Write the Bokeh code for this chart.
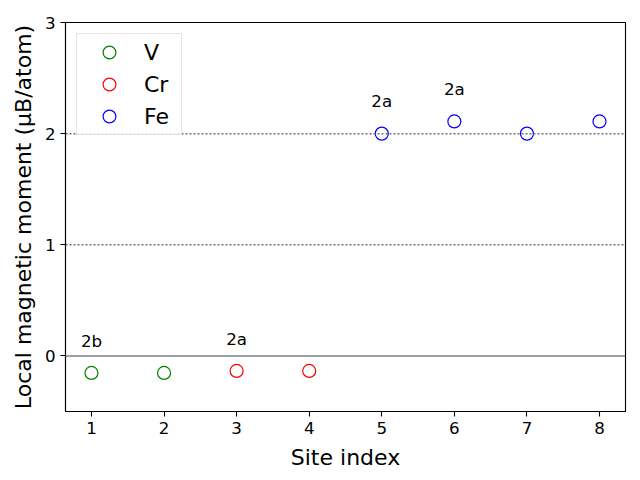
from bokeh.plotting import figure
from bokeh.models import (ColumnDataSource, Span, FixedTicker, Legend, LegendItem, Range1d)
from bokeh.core.properties import value
from bokeh.embed import file_html
from bokeh.resources import INLINE

# ---- data ----
elements = ["V", "Cr", "Fe"]
colors = ["green", "red", "blue"]
v_sites = [1, 2]
v_moments = [-0.153, -0.153]
cr_sites = [3, 4]
cr_moments = [-0.135, -0.135]
fe_sites = [5, 6, 7, 8]
fe_moments = [2.00, 2.11, 2.00, 2.11]

annot_sites = [1, 3, 5, 6]
annot_labels = ["2b", "2a", "2a", "2a"]
annot_offset = 0.2

x_ticks = [1, 2, 3, 4, 5, 6, 7, 8]
y_ticks = [0, 1, 2, 3]
ref_levels = [1, 2]

FONT = "DejaVu Sans"

p = figure(width=640, height=480, output_backend="svg", toolbar_location=None,
           x_range=Range1d(0.642, 8.358), y_range=Range1d(-0.5, 3.0),
           min_border_left=65, min_border_right=15, min_border_top=22, min_border_bottom=69)
p.background_fill_color = "white"
p.border_fill_color = "white"
p.outline_line_color = "black"
p.outline_line_width = 1.1
p.xgrid.visible = False
p.ygrid.visible = False

for ax in (p.xaxis[0], p.yaxis[0]):
    ax.major_label_text_font = FONT
    ax.major_label_text_font_size = "16.7px"
    ax.major_label_text_color = "black"
    ax.axis_line_color = "black"
    ax.axis_line_width = 1.1
    ax.major_tick_line_color = "black"
    ax.major_tick_line_width = 1.1
    ax.major_tick_in = 0
    ax.major_tick_out = 5
    ax.minor_tick_line_color = None
    ax.axis_label_text_font = FONT
    ax.axis_label_text_font_size = "22px"
    ax.axis_label_text_font_style = "normal"
    ax.axis_label_text_color = "black"

p.xaxis[0].ticker = FixedTicker(ticks=x_ticks)
p.yaxis[0].ticker = FixedTicker(ticks=y_ticks)
p.xaxis[0].axis_label = "Site index"
p.xaxis[0].axis_label_standoff = 8
p.yaxis[0].axis_label = "Local magnetic moment (\u03bcB/atom)"
p.yaxis[0].axis_label_standoff = 6
p.yaxis[0].major_label_standoff = 5

# reference lines
p.add_layout(Span(location=0, dimension="width", line_color="#808080", line_width=1.5))
for lv in ref_levels:
    p.add_layout(Span(location=lv, dimension="width", line_color="#707070",
                      line_width=1.5, line_dash="2 2"))

# points
series = [(v_sites, v_moments), (cr_sites, cr_moments), (fe_sites, fe_moments)]
renderers = []
for (xs, ys), c in zip(series, colors):
    r = p.scatter(x=xs, y=ys, marker="circle", size=13, fill_color=None,
                  line_color=c, line_width=1.2)
    renderers.append(r)

# site annotations
all_sites = v_sites + cr_sites + fe_sites
all_moments = v_moments + cr_moments + fe_moments
annot_y = [all_moments[all_sites.index(s)] + annot_offset for s in annot_sites]
src = ColumnDataSource(dict(x=annot_sites, y=annot_y, t=annot_labels))
p.text(x="x", y="y", text="t", source=src, text_align="center", text_baseline="bottom",
       text_font=value(FONT), text_font_size="16.7px", text_color="black")

# legend
legend = Legend(items=[LegendItem(label=e, renderers=[r]) for e, r in zip(elements, renderers)],
                location="top_left")
legend.label_text_font = FONT
legend.label_text_font_size = "22px"
legend.label_text_color = "black"
legend.label_height = 32
legend.glyph_height = 32
legend.glyph_width = 60
legend.label_width = 35
legend.label_standoff = 5
legend.spacing = 0
legend.padding = 2
legend.margin = 11
legend.border_line_color = "#cccccc"
legend.border_line_width = 1
legend.background_fill_alpha = 0.8
p.add_layout(legend)

open("out.html", "w").write(file_html(p, INLINE))
